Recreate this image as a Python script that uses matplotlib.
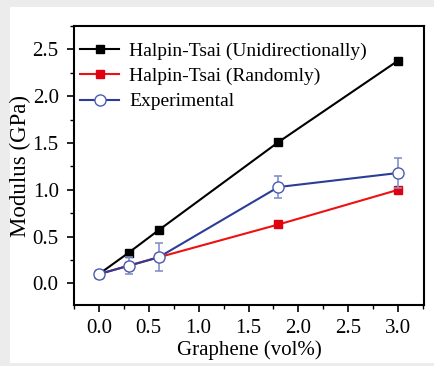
import matplotlib.pyplot as plt
from matplotlib.patches import Rectangle
from matplotlib.ticker import MultipleLocator

plt.rcParams['font.family'] = ['Liberation Serif', 'DejaVu Serif']

# Data
x = [0.0, 0.3, 0.6, 1.8, 3.0]
halpin_uni = [0.10, 0.33, 0.57, 1.51, 2.38]
halpin_rand = [0.10, 0.19, 0.28, 0.63, 1.00]
experimental = [0.10, 0.19, 0.28, 1.03, 1.18]
exp_err = [0.02, 0.09, 0.15, 0.12, 0.16]

fig = plt.figure(figsize=(4.35, 3.66), dpi=100)
fig.patch.set_facecolor('#ececec')
# white panel inside the grey border
fig.patches.append(Rectangle((10 / 435, 3 / 366), 425 / 435, 356 / 366,
                             transform=fig.transFigure, facecolor='white',
                             edgecolor='none', zorder=-10))

ax = fig.add_axes([74 / 435, 1 - 305 / 366, 350 / 435, 279 / 366])
ax.set_zorder(1)

ax.plot(x, halpin_uni, color='black', marker='s', markersize=6, lw=1.5,
        label='Halpin-Tsai (Unidirectionally)', zorder=3)
ax.plot(x, halpin_rand, color='#ee1111', marker='s', markersize=6, lw=1.5,
        markerfacecolor='#e00010', markeredgecolor='#e00010',
        label='Halpin-Tsai (Randomly)', zorder=2)
eb = ax.errorbar(x, experimental, yerr=exp_err, color='#2b3d97', marker='o',
                 markersize=8, markerfacecolor='white', markeredgecolor='#4a5cb0',
                 lw=1.5, ecolor='#8591c8', elinewidth=1.2, capsize=3,
                 capthick=1.2, label='Experimental', zorder=4)

ax.set_xlim(-0.25, 3.26)
ax.set_ylim(-0.23, 2.75)
ax.xaxis.set_minor_locator(MultipleLocator(0.25))
ax.yaxis.set_minor_locator(MultipleLocator(0.25))
ax.set_xticks([0, 0.5, 1.0, 1.5, 2.0, 2.5, 3.0])
ax.set_yticks([0, 0.5, 1.0, 1.5, 2.0, 2.5])
ax.tick_params(which='major', direction='out', length=5, width=1.2,
               labelsize=15)
ax.tick_params(axis='x', pad=5)
ax.tick_params(axis='y', pad=6)
ax.tick_params(which='minor', direction='out', length=3, width=1.0)
for s in ax.spines.values():
    s.set_linewidth(1.5)

ax.set_xlabel('Graphene (vol%)', fontsize=15)
ax.set_ylabel('Modulus (GPa)', fontsize=16.5)
ax.xaxis.set_label_coords(0.5, -0.128)
ax.yaxis.set_label_coords(-0.122, 0.5)

handles, labels = ax.get_legend_handles_labels()
handles = [h[0] if hasattr(h, 'lines') else h for h in handles]
ax.legend(handles, labels, loc='upper left', frameon=False, fontsize=14,
          handlelength=2.0, borderaxespad=0.2, labelspacing=0.4,
          handletextpad=0.5, bbox_to_anchor=(-0.015, 0.985))

fig.savefig('out.png', dpi=100)
